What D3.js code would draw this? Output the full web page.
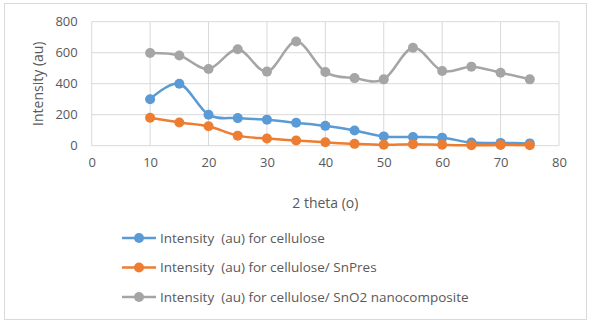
<!DOCTYPE html>
<html>
<head>
<meta charset="utf-8">
<script src="https://cdn.jsdelivr.net/npm/d3@7"></script>
<style>
  body { margin: 0; background: #fff; }
  text { font-family: "Open Sans", "Liberation Sans", sans-serif; fill: #595959; }
</style>
</head>
<body>
<div id="container"></div>
<script>
//data
var theta = [10, 15, 20, 25, 30, 35, 40, 45, 50, 55, 60, 65, 70, 75];
var cellulose = [300, 400, 200, 178, 168, 148, 128, 98, 60, 56, 52, 20, 18, 15];
var snpres = [180, 150, 125, 65, 46, 33, 22, 12, 6, 10, 6, 3, 4, 3];
var sno2 = [598, 582, 495, 622, 478, 672, 475, 436, 428, 632, 482, 510, 471, 428];
var seriesNames = ["Intensity  (au) for cellulose", "Intensity  (au) for cellulose/ SnPres", "Intensity  (au) for cellulose/ SnO2 nanocomposite"];
var seriesColors = ["#5b9bd5", "#ed7d31", "#a5a5a5"];
var xTicks = [0, 10, 20, 30, 40, 50, 60, 70, 80];
var yTicks = [0, 200, 400, 600, 800];

var W = 595, H = 327;
var margin = {top: 21.7, left: 91.7, right: 36, bottom: 181.3};
var width = W - margin.left - margin.right;
var height = H - margin.top - margin.bottom;

var svg = d3.select("#container").append("svg")
  .attr("width", W).attr("height", H);

//chart frame
svg.append("rect")
  .attr("x", 4.5).attr("y", 3.5).attr("width", 582).attr("height", 316)
  .attr("fill", "#fff").attr("stroke", "#d9d9d9").attr("stroke-width", 1);

var g = svg.append("g").attr("transform", "translate(" + margin.left + "," + margin.top + ")");

var x = d3.scaleLinear().domain([0, 80]).range([0, width]);
var y = d3.scaleLinear().domain([0, 800]).range([height, 0]);

//gridlines
g.append("g").selectAll("line").data(yTicks).enter().append("line")
  .attr("x1", 0).attr("x2", width)
  .attr("y1", function(d) { return y(d); }).attr("y2", function(d) { return y(d); })
  .attr("stroke", "#d9d9d9").attr("stroke-width", 1);
g.append("g").selectAll("line").data(xTicks).enter().append("line")
  .attr("y1", 0).attr("y2", height)
  .attr("x1", function(d) { return x(d); }).attr("x2", function(d) { return x(d); })
  .attr("stroke", "#d9d9d9").attr("stroke-width", 1);

//axes (labels only)
var xAxis = g.append("g").attr("transform", "translate(0," + height + ")")
  .call(d3.axisBottom(x).tickValues(xTicks).tickSize(0).tickPadding(12));
xAxis.select(".domain").remove();
xAxis.selectAll("text").style("font-size", "13px").attr("fill", "#595959");

var yAxis = g.append("g")
  .call(d3.axisLeft(y).tickValues(yTicks).tickSize(0).tickPadding(14));
yAxis.select(".domain").remove();
yAxis.selectAll("text").style("font-size", "13px").attr("fill", "#595959");

//axis titles
svg.append("text")
  .attr("x", margin.left + width / 2).attr("y", 208)
  .attr("text-anchor", "middle").style("font-size", "14px")
  .text("2 theta (o)");
svg.append("text")
  .attr("transform", "translate(43," + (margin.top + height / 2) + ") rotate(-90)")
  .attr("text-anchor", "middle").style("font-size", "14px")
  .text("Intensity (au)");

//series lines + markers
var allSeries = [cellulose, snpres, sno2];
var line = d3.line()
  .x(function(d, i) { return x(theta[i]); })
  .y(function(d) { return y(d); })
  .curve(d3.curveCatmullRom.alpha(0));

allSeries.forEach(function(vals, k) {
  g.append("path").datum(vals)
    .attr("d", line)
    .attr("fill", "none")
    .attr("stroke", seriesColors[k])
    .attr("stroke-width", 2.5);
  g.append("g").selectAll("circle").data(vals).enter().append("circle")
    .attr("cx", function(d, i) { return x(theta[i]); })
    .attr("cy", function(d) { return y(d); })
    .attr("r", 5)
    .attr("fill", seriesColors[k]);
});

//legend
var legend = svg.append("g");
seriesNames.forEach(function(name, k) {
  var ly = 238 + k * 29.5;
  legend.append("line")
    .attr("x1", 122).attr("x2", 156).attr("y1", ly).attr("y2", ly)
    .attr("stroke", seriesColors[k]).attr("stroke-width", 2.5);
  legend.append("circle")
    .attr("cx", 139).attr("cy", ly).attr("r", 5)
    .attr("fill", seriesColors[k]);
  legend.append("text")
    .attr("x", 160).attr("y", ly).attr("dy", "0.35em")
    .style("font-size", "13.5px").style("white-space", "pre")
    .text(name);
});
</script>
</body>
</html>
